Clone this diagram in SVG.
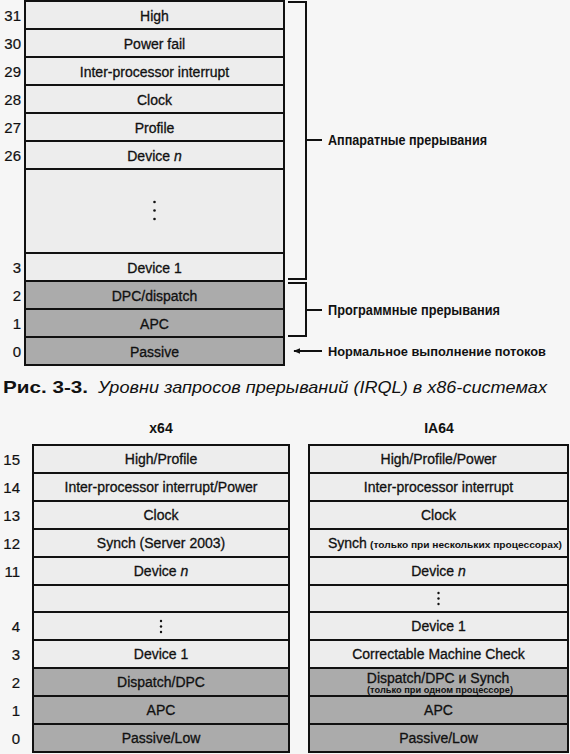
<svg xmlns="http://www.w3.org/2000/svg" width="570" height="754" viewBox="0 0 570 754">
<style>
.bg{fill:#f6f6f6}
.c{fill:#ededed;stroke:#111;stroke-width:2}
.s{fill:#ababab;stroke:#111;stroke-width:2}
.t{font-family:"Liberation Sans",Arial,sans-serif;font-size:14px;fill:#111;stroke:#111;stroke-width:0.3;text-anchor:middle}
.n{font-family:"Liberation Sans",Arial,sans-serif;font-size:15px;fill:#111;stroke:#111;stroke-width:0.2;text-anchor:end}
.b{font-family:"Liberation Sans",Arial,sans-serif;font-weight:bold;fill:#111}
.sm{font-family:"Liberation Sans",Arial,sans-serif;font-weight:bold;font-size:9.5px;fill:#111;stroke:none}
.ln{fill:none;stroke:#111;stroke-width:2}
.dot{fill:#111}
</style>
<defs>
<marker id="ah" viewBox="0 0 10 10" refX="9" refY="5" markerWidth="7" markerHeight="7" markerUnits="userSpaceOnUse" orient="auto"><path d="M0,1 L10,5 L0,9 z" fill="#111"/></marker>
</defs>
<rect class="bg" x="0" y="0" width="570" height="754"/>

<!-- Top table (x86) -->
<g id="x86-31"><rect class="c" x="25" y="1" width="259" height="28"/><text class="n" x="21" y="20.5">31</text><text class="t" x="154.5" y="20.5">High</text></g>
<g id="x86-30"><rect class="c" x="25" y="29" width="259" height="28"/><text class="n" x="21" y="48.5">30</text><text class="t" x="154.5" y="48.5">Power fail</text></g>
<g id="x86-29"><rect class="c" x="25" y="57" width="259" height="28"/><text class="n" x="21" y="76.5">29</text><text class="t" x="154.5" y="76.5">Inter-processor interrupt</text></g>
<g id="x86-28"><rect class="c" x="25" y="85" width="259" height="28"/><text class="n" x="21" y="104.5">28</text><text class="t" x="154.5" y="104.5">Clock</text></g>
<g id="x86-27"><rect class="c" x="25" y="113" width="259" height="28"/><text class="n" x="21" y="132.5">27</text><text class="t" x="154.5" y="132.5">Profile</text></g>
<g id="x86-26"><rect class="c" x="25" y="141" width="259" height="28"/><text class="n" x="21" y="160.5">26</text><text class="t" x="154.5" y="160.5">Device <tspan font-style="italic">n</tspan></text></g>
<g id="x86-gap"><rect class="c" x="25" y="169" width="259" height="84"/><circle class="dot" cx="154.5" cy="202" r="1.3"/><circle class="dot" cx="154.5" cy="210.5" r="1.3"/><circle class="dot" cx="154.5" cy="219" r="1.3"/></g>
<g id="x86-3"><rect class="c" x="25" y="253" width="259" height="28"/><text class="n" x="21" y="272.5">3</text><text class="t" x="154.5" y="272.5">Device 1</text></g>
<g id="x86-2"><rect class="s" x="25" y="281" width="259" height="28"/><text class="n" x="21" y="300.5">2</text><text class="t" x="154.5" y="300.5">DPC/dispatch</text></g>
<g id="x86-1"><rect class="s" x="25" y="309" width="259" height="28"/><text class="n" x="21" y="328.5">1</text><text class="t" x="154.5" y="328.5">APC</text></g>
<g id="x86-0"><rect class="s" x="25" y="337" width="259" height="28"/><text class="n" x="21" y="356.5">0</text><text class="t" x="154.5" y="356.5">Passive</text></g>

<!-- Labels -->
<g id="label-hw"><text class="b" x="328" y="145" font-size="14" textLength="159" lengthAdjust="spacingAndGlyphs">Аппаратные прерывания</text></g>
<g id="label-sw"><text class="b" x="328" y="315" font-size="14" textLength="172" lengthAdjust="spacingAndGlyphs">Программные прерывания</text></g>
<g id="label-normal"><text class="b" x="328" y="356" font-size="13.5" textLength="218" lengthAdjust="spacingAndGlyphs">Нормальное выполнение потоков</text></g>

<!-- Connectors -->
<g id="connectors">
<path class="ln" d="M288,2 H306 V279 H288"/>
<path class="ln" d="M306,140 H322"/>
<path class="ln" d="M288,283 H306 V336 H288"/>
<path class="ln" d="M306,310 H322"/>
<line class="ln" x1="322" y1="351" x2="294" y2="351" marker-end="url(#ah)"/>
</g>

<!-- Caption -->
<g id="caption">
<text class="b" x="3" y="393" font-size="16.5" textLength="85" lengthAdjust="spacingAndGlyphs">Рис. 3-3.</text>
<text x="98" y="393" font-family="Liberation Sans, Arial, sans-serif" font-style="italic" font-size="16.5" fill="#111" textLength="449" lengthAdjust="spacingAndGlyphs">Уровни запросов прерываний (IRQL) в x86-системах</text>
</g>

<!-- Headers -->
<g id="hdr-x64"><text class="b" x="161" y="433" font-size="14" text-anchor="middle">x64</text></g>
<g id="hdr-ia64"><text class="b" x="439" y="433" font-size="14" text-anchor="middle">IA64</text></g>

<!-- Numbers bottom -->
<g id="levels-bottom">
<text class="n" x="20" y="464.5">15</text>
<text class="n" x="20" y="492.5">14</text>
<text class="n" x="20" y="520.5">13</text>
<text class="n" x="20" y="548.5">12</text>
<text class="n" x="20" y="576.5">11</text>
<text class="n" x="20" y="631.5">4</text>
<text class="n" x="20" y="659.5">3</text>
<text class="n" x="20" y="687.5">2</text>
<text class="n" x="20" y="715.5">1</text>
<text class="n" x="20" y="743.5">0</text>
</g>

<!-- x64 table -->
<g id="x64-15"><rect class="c" x="33" y="445" width="256" height="28"/><text class="t" x="161" y="464">High/Profile</text></g>
<g id="x64-14"><rect class="c" x="33" y="473" width="256" height="28"/><text class="t" x="161" y="492">Inter-processor interrupt/Power</text></g>
<g id="x64-13"><rect class="c" x="33" y="501" width="256" height="28"/><text class="t" x="161" y="520">Clock</text></g>
<g id="x64-12"><rect class="c" x="33" y="529" width="256" height="28"/><text class="t" x="161" y="548">Synch (Server 2003)</text></g>
<g id="x64-11"><rect class="c" x="33" y="557" width="256" height="28"/><text class="t" x="161" y="576">Device <tspan font-style="italic">n</tspan></text></g>
<g id="x64-gap"><rect class="c" x="33" y="585" width="256" height="27"/></g>
<g id="x64-4"><rect class="c" x="33" y="612" width="256" height="28"/><circle class="dot" cx="161" cy="621" r="1.2"/><circle class="dot" cx="161" cy="626.5" r="1.2"/><circle class="dot" cx="161" cy="632" r="1.2"/></g>
<g id="x64-3"><rect class="c" x="33" y="640" width="256" height="28"/><text class="t" x="161" y="659">Device 1</text></g>
<g id="x64-2"><rect class="s" x="33" y="668" width="256" height="28"/><text class="t" x="161" y="687">Dispatch/DPC</text></g>
<g id="x64-1"><rect class="s" x="33" y="696" width="256" height="28"/><text class="t" x="161" y="715">APC</text></g>
<g id="x64-0"><rect class="s" x="33" y="724" width="256" height="28"/><text class="t" x="161" y="743">Passive/Low</text></g>

<!-- IA64 table -->
<g id="ia64-15"><rect class="c" x="309" y="445" width="259" height="28"/><text class="t" x="438.5" y="464">High/Profile/Power</text></g>
<g id="ia64-14"><rect class="c" x="309" y="473" width="259" height="28"/><text class="t" x="438.5" y="492">Inter-processor interrupt</text></g>
<g id="ia64-13"><rect class="c" x="309" y="501" width="259" height="28"/><text class="t" x="438.5" y="520">Clock</text></g>
<g id="ia64-12"><rect class="c" x="309" y="529" width="259" height="28"/><text class="t" x="328" y="547.5" style="text-anchor:start">Synch</text><text class="sm" x="370" y="547.5" textLength="192" lengthAdjust="spacingAndGlyphs">(только при нескольких процессорах)</text></g>
<g id="ia64-11"><rect class="c" x="309" y="557" width="259" height="28"/><text class="t" x="438.5" y="576">Device <tspan font-style="italic">n</tspan></text></g>
<g id="ia64-gap"><rect class="c" x="309" y="585" width="259" height="27"/><circle class="dot" cx="438.5" cy="593" r="1.2"/><circle class="dot" cx="438.5" cy="598.5" r="1.2"/><circle class="dot" cx="438.5" cy="604" r="1.2"/></g>
<g id="ia64-4"><rect class="c" x="309" y="612" width="259" height="28"/><text class="t" x="438.5" y="631">Device 1</text></g>
<g id="ia64-3"><rect class="c" x="309" y="640" width="259" height="28"/><text class="t" x="438.5" y="659">Correctable Machine Check</text></g>
<g id="ia64-2"><rect class="s" x="309" y="668" width="259" height="28"/><text class="t" x="438" y="682.5">Dispatch/DPC и Synch</text><text class="sm" x="367" y="693" textLength="146" lengthAdjust="spacingAndGlyphs">(только при одном процессоре)</text></g>
<g id="ia64-1"><rect class="s" x="309" y="696" width="259" height="28"/><text class="t" x="438.5" y="715">APC</text></g>
<g id="ia64-0"><rect class="s" x="309" y="724" width="259" height="28"/><text class="t" x="438.5" y="743">Passive/Low</text></g>
</svg>
